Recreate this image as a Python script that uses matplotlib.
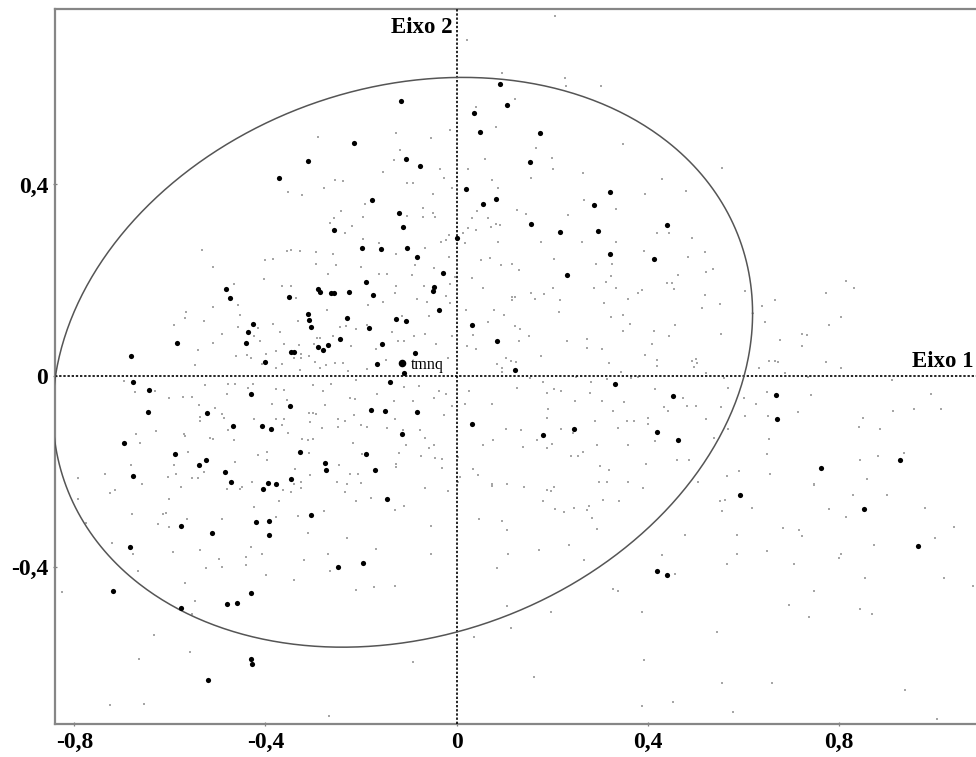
import matplotlib
matplotlib.use("Agg")
import matplotlib.pyplot as plt
import numpy as np

# ---------------- data (factorial plane coordinates) ----------------
# principal (active) variables, shown as black dots
major_upper = [
    (-0.215, 0.487), (-0.311, 0.449), (-0.372, 0.414), (-0.257, 0.305), (-0.117, 0.574),
    (0.090, 0.610), (0.036, 0.550), (0.106, 0.566), (0.048, 0.509), (0.174, 0.508),
    (-0.106, 0.453), (-0.076, 0.438), (0.153, 0.446), (-0.178, 0.367), (0.020, 0.391),
    (0.055, 0.359), (0.082, 0.370), (-0.120, 0.340), (-0.112, 0.310), (0.321, 0.384),
    (0.287, 0.357), (0.155, 0.317), (0.216, 0.301), (0.296, 0.303), (0.440, 0.316),
    (0.000, 0.287), (-0.199, 0.268),
]
major_mid_left = [
    (-0.482, 0.182), (-0.474, 0.162), (-0.350, 0.165), (-0.291, 0.182), (-0.285, 0.175),
    (-0.264, 0.174), (-0.257, 0.174), (-0.226, 0.175), (-0.426, 0.109), (-0.436, 0.091),
    (-0.441, 0.068), (-0.311, 0.128), (-0.308, 0.116), (-0.304, 0.102), (-0.229, 0.121),
    (-0.245, 0.077), (-0.290, 0.060), (-0.279, 0.054), (-0.269, 0.064), (-0.346, 0.050),
    (-0.341, 0.049), (-0.400, 0.029), (-0.585, 0.068), (-0.681, 0.042), (-0.678, -0.013),
    (-0.644, -0.031), (-0.646, -0.077), (-0.431, -0.039), (-0.348, -0.063), (-0.522, -0.079),
    (-0.467, -0.105), (-0.408, -0.105), (-0.389, -0.112), (-0.695, -0.141), (-0.589, -0.164),
    (-0.525, -0.177), (-0.540, -0.186), (-0.328, -0.159), (-0.275, -0.183), (-0.273, -0.197),
    (-0.677, -0.210), (-0.485, -0.202), (-0.473, -0.222), (-0.394, -0.224), (-0.379, -0.227),
    (-0.347, -0.216),
]
major_center = [
    (-0.159, 0.265), (-0.105, 0.267), (-0.082, 0.249), (-0.028, 0.214), (-0.190, 0.197),
    (-0.048, 0.186), (-0.049, 0.177), (-0.175, 0.169), (-0.038, 0.137), (-0.127, 0.119),
    (-0.106, 0.114), (-0.184, 0.100), (-0.157, 0.067), (-0.087, 0.047), (-0.166, 0.025),
    (-0.110, 0.006), (-0.140, -0.014), (-0.180, -0.072), (-0.150, -0.073), (-0.082, -0.075),
    (-0.115, -0.123), (-0.190, -0.164), (-0.171, -0.198), (0.320, 0.255), (0.413, 0.245),
    (0.231, 0.210), (0.032, 0.107), (0.085, 0.072), (0.122, 0.012), (0.332, -0.017),
    (0.453, -0.043), (0.032, -0.102), (0.181, -0.125), (0.245, -0.111), (0.420, -0.118),
]
major_right = [
    (0.669, -0.040), (0.671, -0.091), (0.463, -0.135), (0.762, -0.193), (0.928, -0.177),
    (0.420, -0.409), (0.439, -0.416), (0.593, -0.250), (0.853, -0.279), (0.965, -0.356),
]
major_lower = [
    (-0.406, -0.237), (-0.576, -0.314), (-0.511, -0.329), (-0.420, -0.307), (-0.392, -0.303),
    (-0.392, -0.333), (-0.304, -0.291), (-0.683, -0.359), (-0.248, -0.400), (-0.195, -0.391),
    (-0.720, -0.451), (-0.430, -0.455), (-0.480, -0.477), (-0.460, -0.475), (-0.576, -0.485),
    (-0.430, -0.593), (-0.428, -0.603), (-0.520, -0.637), (-0.146, -0.258),
]
highlight_label = "tmnq"
highlight_point = (-0.114, 0.027)

# supplementary variables, shown as faint grey dots
minor_top = [
    (-0.290, 0.500), (-0.255, 0.410), (-0.238, 0.407), (-0.278, 0.393), (-0.352, 0.384),
    (-0.323, 0.379), (-0.243, 0.345), (-0.257, 0.329), (-0.195, 0.331), (-0.265, 0.320),
    (-0.220, 0.314), (-0.234, 0.299), (-0.195, 0.285),
    (0.205, 0.753), (0.022, 0.702), (0.095, 0.633), (0.227, 0.622), (0.229, 0.606),
    (0.301, 0.606), (0.121, 0.579), (0.041, 0.562), (-0.126, 0.507), (-0.054, 0.498),
    (-0.014, 0.513), (0.082, 0.520), (0.165, 0.477), (0.347, 0.485), (-0.119, 0.472),
    (-0.131, 0.451), (0.059, 0.453), (0.200, 0.455), (0.201, 0.432), (0.023, 0.432),
    (-0.035, 0.432), (-0.154, 0.426), (-0.026, 0.413), (0.155, 0.413), (0.073, 0.409),
    (-0.103, 0.403), (-0.091, 0.403), (-0.009, 0.392), (0.086, 0.393), (0.264, 0.423),
    (0.430, 0.411), (0.394, 0.381), (-0.050, 0.380), (0.266, 0.367), (-0.192, 0.360),
    (-0.071, 0.350), (-0.049, 0.340), (0.127, 0.347), (0.144, 0.338), (0.233, 0.336),
    (0.333, 0.348), (0.043, 0.345), (-0.105, 0.335), (-0.070, 0.331), (-0.045, 0.331),
    (0.031, 0.329), (0.065, 0.329), (0.082, 0.317), (0.091, 0.315), (0.071, 0.310),
    (0.024, 0.308), (0.040, 0.305), (0.013, 0.298), (-0.016, 0.294), (-0.023, 0.284),
    (-0.032, 0.280), (0.017, 0.278), (0.086, 0.279), (0.177, 0.279), (0.262, 0.279),
    (0.334, 0.280), (0.418, 0.299), (0.445, 0.299), (-0.163, 0.278),
    (0.556, 0.434), (0.480, 0.386), (0.492, 0.289),
]
minor_left_upper = [
    (-0.533, 0.262), (-0.402, 0.241), (-0.385, 0.244), (-0.356, 0.260), (-0.347, 0.262),
    (-0.328, 0.261), (-0.294, 0.259), (-0.259, 0.255), (-0.510, 0.228), (-0.295, 0.234),
    (-0.253, 0.232), (-0.200, 0.228), (-0.403, 0.202), (-0.366, 0.188), (-0.346, 0.187),
    (-0.466, 0.192), (-0.269, 0.212), (-0.509, 0.143), (-0.458, 0.148), (-0.337, 0.163),
    (-0.271, 0.137), (-0.567, 0.134), (-0.569, 0.120), (-0.529, 0.114), (-0.453, 0.127),
    (-0.591, 0.105), (-0.457, 0.102), (-0.415, 0.100), (-0.384, 0.108), (-0.370, 0.091),
    (-0.331, 0.114), (-0.293, 0.079), (-0.285, 0.079), (-0.244, 0.102), (-0.232, 0.103),
    (-0.210, 0.097), (-0.423, 0.084), (-0.412, 0.073), (-0.492, 0.087), (-0.510, 0.068),
    (-0.361, 0.066), (-0.330, 0.064), (-0.299, 0.066), (-0.259, 0.084), (-0.222, 0.063),
    (-0.542, 0.053), (-0.462, 0.041), (-0.439, 0.044), (-0.430, 0.036), (-0.398, 0.045),
    (-0.379, 0.052), (-0.326, 0.045), (-0.326, 0.036), (-0.310, 0.042), (-0.296, 0.029),
    (-0.255, 0.027), (-0.547, 0.022), (-0.407, 0.024), (-0.365, 0.024), (-0.341, 0.038),
    (-0.379, 0.016), (-0.328, 0.012), (-0.286, 0.016), (-0.273, 0.022), (-0.237, 0.026),
    (-0.227, 0.010),
]
minor_left_lower = [
    (-0.211, -0.010), (-0.695, -0.011), (-0.632, -0.033), (-0.673, -0.035), (-0.602, -0.046),
    (-0.572, -0.044), (-0.554, -0.045), (-0.527, -0.019), (-0.479, -0.018), (-0.464, -0.017),
    (-0.436, -0.025), (-0.427, -0.018), (-0.377, -0.028), (-0.361, -0.030), (-0.355, -0.051),
    (-0.301, -0.019), (-0.279, -0.033), (-0.264, -0.018), (-0.224, -0.047), (-0.212, -0.049),
    (-0.540, -0.061), (-0.505, -0.068), (-0.480, -0.039), (-0.386, -0.059), (-0.276, -0.061),
    (-0.491, -0.081), (-0.536, -0.086), (-0.538, -0.095), (-0.487, -0.089), (-0.423, -0.090),
    (-0.379, -0.090), (-0.361, -0.090), (-0.365, -0.103), (-0.308, -0.079), (-0.300, -0.079),
    (-0.294, -0.080), (-0.306, -0.096), (-0.248, -0.091), (-0.234, -0.095), (-0.249, -0.107),
    (-0.215, -0.082), (-0.281, -0.109), (-0.200, -0.104), (-0.478, -0.114), (-0.630, -0.115),
    (-0.671, -0.121), (-0.570, -0.121), (-0.568, -0.126), (-0.517, -0.130), (-0.510, -0.132),
    (-0.465, -0.135), (-0.352, -0.119), (-0.323, -0.132), (-0.311, -0.135), (-0.301, -0.133),
    (-0.662, -0.141), (-0.562, -0.160), (-0.416, -0.166), (-0.397, -0.159), (-0.308, -0.162),
    (-0.198, -0.164), (-0.247, -0.187), (-0.217, -0.140), (-0.682, -0.186), (-0.591, -0.187),
    (-0.588, -0.206), (-0.464, -0.180), (-0.529, -0.201), (-0.396, -0.176), (-0.339, -0.195),
    (-0.307, -0.207), (-0.224, -0.206), (-0.206, -0.206), (-0.792, -0.215), (-0.735, -0.205),
    (-0.603, -0.213), (-0.554, -0.214), (-0.541, -0.215), (-0.659, -0.226), (-0.428, -0.222),
    (-0.340, -0.227), (-0.325, -0.222), (-0.250, -0.222), (-0.229, -0.226), (-0.201, -0.224),
]
minor_center_left = [
    (-0.126, 0.255), (-0.066, 0.267), (-0.088, 0.232), (-0.047, 0.226), (-0.163, 0.212),
    (-0.145, 0.213), (-0.094, 0.211), (-0.068, 0.188), (-0.128, 0.188), (-0.082, 0.161),
    (-0.130, 0.174), (-0.154, 0.154), (-0.062, 0.155), (-0.186, 0.148), (-0.057, 0.125),
    (-0.114, 0.125), (-0.188, 0.106), (-0.136, 0.091), (-0.089, 0.084), (-0.066, 0.088),
    (-0.123, 0.073), (-0.111, 0.073), (-0.043, 0.066), (-0.169, 0.056), (-0.147, 0.033),
    (-0.188, 0.015), (-0.017, 0.248), (-0.004, 0.207), (-0.013, 0.191), (-0.022, 0.167),
    (-0.013, 0.151), (-0.010, 0.084), (-0.018, 0.036),
    (-0.079, -0.022), (-0.110, -0.024), (-0.167, -0.038), (-0.131, -0.052), (-0.092, -0.054),
    (-0.038, -0.032), (-0.022, -0.039), (-0.047, -0.047), (-0.010, -0.063), (-0.027, -0.082),
    (-0.188, -0.107), (-0.145, -0.109), (-0.129, -0.091), (-0.113, -0.114), (-0.077, -0.114),
    (-0.066, -0.130), (-0.107, -0.146), (-0.058, -0.152), (-0.047, -0.146), (-0.121, -0.162),
    (-0.075, -0.169), (-0.046, -0.173), (-0.031, -0.175), (-0.127, -0.185), (-0.127, -0.192),
    (-0.030, -0.194),
]
minor_center_right = [
    (0.050, 0.242), (0.070, 0.246), (0.092, 0.232), (0.116, 0.234), (0.130, 0.221),
    (0.203, 0.245), (0.292, 0.234), (0.324, 0.233), (0.391, 0.261), (0.323, 0.209),
    (0.031, 0.204), (0.055, 0.184), (0.116, 0.165), (0.123, 0.165), (0.115, 0.158),
    (0.163, 0.160), (0.156, 0.174), (0.183, 0.171), (0.202, 0.184), (0.216, 0.158),
    (0.287, 0.183), (0.313, 0.195), (0.334, 0.184), (0.359, 0.161), (0.379, 0.174),
    (0.388, 0.180), (0.440, 0.193), (0.450, 0.193), (0.308, 0.151), (0.215, 0.134),
    (0.323, 0.123), (0.347, 0.127), (0.019, 0.137), (0.079, 0.137), (0.099, 0.126),
    (0.066, 0.113), (0.123, 0.104), (0.133, 0.097), (0.151, 0.082), (0.034, 0.085),
    (0.022, 0.062), (0.040, 0.056), (0.131, 0.073), (0.176, 0.041), (0.231, 0.073),
    (0.273, 0.077), (0.273, 0.058), (0.303, 0.056), (0.347, 0.094), (0.363, 0.108),
    (0.413, 0.094), (0.445, 0.082), (0.409, 0.067), (0.393, 0.043), (0.418, 0.032),
    (0.419, 0.021), (0.319, 0.027), (0.344, 0.008), (0.084, 0.024), (0.095, 0.017),
    (0.104, 0.038), (0.113, 0.031), (0.124, 0.028), (0.095, 0.008),
    (0.153, -0.004), (0.181, -0.013), (0.249, -0.003), (0.282, -0.013), (0.315, -0.007),
    (0.364, -0.005), (0.379, -0.002), (0.025, -0.033), (0.074, -0.059), (0.126, -0.025),
    (0.188, -0.036), (0.204, -0.028), (0.218, -0.032), (0.247, -0.052), (0.279, -0.036),
    (0.303, -0.052), (0.328, -0.073), (0.350, -0.056), (0.415, -0.028), (0.433, -0.065),
    (0.442, -0.073), (0.017, -0.060), (0.192, -0.070), (0.188, -0.088), (0.103, -0.111),
    (0.135, -0.114), (0.219, -0.112), (0.243, -0.120), (0.289, -0.095), (0.337, -0.109),
    (0.356, -0.095), (0.371, -0.095), (0.400, -0.088), (0.400, -0.101), (0.075, -0.135),
    (0.169, -0.135), (0.188, -0.152), (0.200, -0.142), (0.139, -0.149), (0.294, -0.146),
    (0.358, -0.145), (0.415, -0.137), (0.003, -0.171), (0.054, -0.146), (0.240, -0.168),
    (0.253, -0.167), (0.264, -0.159), (0.395, -0.185), (0.300, -0.190), (0.318, -0.198),
    (0.034, -0.195), (0.045, -0.208), (0.074, -0.227), (0.106, -0.227), (0.298, -0.222),
    (0.315, -0.223), (0.359, -0.222), (0.006, -0.211), (0.003, -0.222),
]
minor_right = [
    (0.483, 0.248), (0.519, 0.259), (0.464, 0.210), (0.522, 0.217), (0.537, 0.224),
    (0.455, 0.182), (0.520, 0.169), (0.603, 0.177), (0.513, 0.142), (0.550, 0.149),
    (0.638, 0.146), (0.666, 0.159), (0.645, 0.112), (0.676, 0.074), (0.457, 0.105),
    (0.552, 0.088), (0.773, 0.173), (0.815, 0.198), (0.832, 0.184), (0.805, 0.123),
    (0.779, 0.105), (0.722, 0.087), (0.733, 0.085), (0.723, 0.063), (0.492, 0.031),
    (0.501, 0.034), (0.503, 0.026), (0.496, 0.018), (0.653, 0.031), (0.666, 0.031),
    (0.672, 0.028), (0.633, 0.016), (0.773, 0.029), (0.803, 0.017), (0.522, 0.005),
    (0.560, -0.004), (0.687, 0.005), (0.735, -0.002), (0.911, -0.008), (0.568, -0.025),
    (0.602, -0.046), (0.650, -0.035), (0.741, -0.040), (0.992, -0.038), (0.473, -0.046),
    (0.501, -0.063), (0.481, -0.063), (0.552, -0.065), (0.626, -0.059), (0.715, -0.075),
    (0.913, -0.074), (0.957, -0.069), (1.013, -0.070), (0.522, -0.090), (0.604, -0.085),
    (0.651, -0.084), (0.851, -0.089), (0.842, -0.107), (0.885, -0.111), (0.568, -0.112),
    (0.538, -0.130), (0.654, -0.132), (0.460, -0.176), (0.486, -0.176), (0.649, -0.164),
    (0.843, -0.177), (0.881, -0.167), (0.936, -0.162), (0.566, -0.209), (0.591, -0.199),
    (0.655, -0.206), (0.747, -0.226), (0.859, -0.216), (0.505, -0.222),
]
minor_bottom = [
    (-0.715, -0.239), (-0.726, -0.246), (-0.577, -0.232), (-0.480, -0.238), (-0.453, -0.237),
    (-0.449, -0.232), (-0.347, -0.243), (-0.326, -0.234), (-0.363, -0.239), (-0.234, -0.244),
    (-0.211, -0.262), (-0.792, -0.258), (-0.602, -0.258), (-0.371, -0.262), (-0.424, -0.274),
    (-0.679, -0.289), (-0.615, -0.290), (-0.609, -0.287), (-0.278, -0.283), (-0.377, -0.296),
    (-0.333, -0.293), (-0.775, -0.309), (-0.625, -0.311), (-0.602, -0.317), (-0.564, -0.300),
    (-0.491, -0.299), (-0.311, -0.330), (-0.229, -0.339), (-0.722, -0.349), (-0.677, -0.374),
    (-0.593, -0.369), (-0.538, -0.365), (-0.431, -0.358), (-0.408, -0.373), (-0.441, -0.379),
    (-0.497, -0.383), (-0.492, -0.400), (-0.524, -0.403), (-0.441, -0.396), (-0.269, -0.373),
    (-0.319, -0.386), (-0.666, -0.408), (-0.398, -0.418), (-0.340, -0.427), (-0.265, -0.409),
    (-0.568, -0.434), (-0.211, -0.448), (-0.826, -0.453), (-0.548, -0.471), (-0.553, -0.499),
    (-0.634, -0.542), (-0.558, -0.579), (-0.665, -0.593), (-0.726, -0.689), (-0.654, -0.687),
    (-0.267, -0.712),
    (-0.180, -0.255), (-0.129, -0.282), (-0.110, -0.272), (-0.066, -0.236), (-0.018, -0.241),
    (-0.169, -0.363), (-0.054, -0.314), (-0.054, -0.374), (-0.172, -0.443), (-0.130, -0.439),
    (-0.091, -0.598), (0.047, -0.300), (0.094, -0.303), (0.105, -0.323), (0.107, -0.374),
    (0.084, -0.403), (0.105, -0.481), (0.114, -0.528), (0.036, -0.546), (0.162, -0.630),
    (0.073, -0.230), (0.140, -0.232), (0.189, -0.239), (0.197, -0.241), (0.204, -0.232),
    (0.181, -0.262), (0.206, -0.279), (0.224, -0.285), (0.245, -0.277), (0.273, -0.282),
    (0.277, -0.272), (0.283, -0.298), (0.293, -0.321), (0.306, -0.260), (0.339, -0.263),
    (0.390, -0.234), (0.172, -0.365), (0.234, -0.355), (0.266, -0.386), (0.328, -0.446),
    (0.338, -0.450), (0.197, -0.495), (0.388, -0.495), (0.429, -0.376), (0.392, -0.595),
    (0.387, -0.691), (0.453, -0.683),
    (0.550, -0.262), (0.561, -0.260), (0.556, -0.283), (0.617, -0.277), (0.779, -0.279),
    (0.829, -0.250), (0.901, -0.250), (0.814, -0.296), (0.980, -0.277), (1.041, -0.317),
    (1.001, -0.339), (0.477, -0.334), (0.587, -0.333), (0.682, -0.319), (0.717, -0.323),
    (0.722, -0.336), (0.650, -0.367), (0.587, -0.374), (0.566, -0.395), (0.706, -0.395),
    (0.803, -0.373), (0.799, -0.381), (0.874, -0.354), (0.854, -0.424), (1.019, -0.424),
    (1.080, -0.441), (0.456, -0.415), (0.747, -0.451), (0.695, -0.480), (0.738, -0.505),
    (0.843, -0.489), (0.869, -0.499), (0.545, -0.537), (0.556, -0.642), (0.659, -0.642),
    (0.938, -0.658), (0.578, -0.704), (1.004, -0.718), (0.747, -0.229),
]

# confidence ellipse (centre, horizontal/vertical half-extents, covariance term)
ellipse_center = (-0.113, 0.028)
ellipse_half_x = 0.732
ellipse_half_y = 0.596
ellipse_cov = 0.075

x_ticks = [-0.8, -0.4, 0.0, 0.4, 0.8]
x_tick_labels = ["-0,8", "-0,4", "0", "0,4", "0,8"]
y_ticks = [-0.4, 0.0, 0.4]
y_tick_labels = ["-0,4", "0", "0,4"]
axis1_label = "Eixo 1"
axis2_label = "Eixo 2"

# ---------------- drawing ----------------
SERIF = ["Liberation Serif", "DejaVu Serif"]

fig = plt.figure(figsize=(9.76, 7.57), dpi=100)
ax = fig.add_axes([54.5 / 976, 33 / 757, (976 - 54.5) / 976, 715 / 757])
ax.set_xlim(-0.8414, 1.0864)
ax.set_ylim(-0.7287, 0.7671)

minor = np.array(minor_top + minor_left_upper + minor_left_lower + minor_center_left
                 + minor_center_right + minor_right + minor_bottom)
major = np.array(major_upper + major_mid_left + major_center + major_right + major_lower)

ax.scatter(minor[:, 0], minor[:, 1], s=2.0, marker="s", color="#a6a6a6",
           linewidths=0, zorder=2)

ax.axhline(0, color="black", lw=1.2, ls=(0, (1.4, 1.1)), zorder=3)
ax.axvline(0, color="black", lw=1.2, ls=(0, (1.4, 1.1)), zorder=3)

t = np.linspace(0, 2 * np.pi, 600)
A = ellipse_half_x ** 2
B = ellipse_half_y ** 2
ex = ellipse_center[0] + ellipse_half_x * np.cos(t)
ey = (ellipse_center[1] + (ellipse_cov / ellipse_half_x) * np.cos(t)
      + np.sqrt(B - ellipse_cov ** 2 / A) * np.sin(t))
ax.plot(ex, ey, color="#555555", lw=1.1, zorder=4)

ax.scatter(major[:, 0], major[:, 1], s=14, color="black", linewidths=0, zorder=5)
ax.scatter([highlight_point[0]], [highlight_point[1]], s=30, color="black",
           linewidths=0, zorder=5)
ax.text(highlight_point[0] + 0.018, highlight_point[1] - 0.012, highlight_label,
        fontsize=11.5, family=SERIF, va="baseline", ha="left", zorder=6)

ax.text(1.082, 0.019, axis1_label, ha="right", va="baseline", fontsize=16.5,
        fontweight="bold", family=SERIF, zorder=6)
ax.text(-0.009, 0.716, axis2_label, ha="right", va="baseline", fontsize=16.5,
        fontweight="bold", family=SERIF, zorder=6)

ax.set_xticks(x_ticks)
ax.set_xticklabels(x_tick_labels)
ax.set_yticks(y_ticks)
ax.set_yticklabels(y_tick_labels)
for lab in ax.get_xticklabels() + ax.get_yticklabels():
    lab.set_fontfamily(SERIF)
    lab.set_fontweight("bold")
    lab.set_fontsize(17)
ax.tick_params(axis="both", direction="inout", length=3.0, width=0.9, color="#808080")
ax.tick_params(axis="x", pad=4.5)
ax.tick_params(axis="y", pad=3.0)

for side in ("left", "bottom", "top"):
    ax.spines[side].set_color("#868686")
    ax.spines[side].set_linewidth(1.6)
ax.spines["right"].set_visible(False)

fig.savefig("out.png", dpi=100)
